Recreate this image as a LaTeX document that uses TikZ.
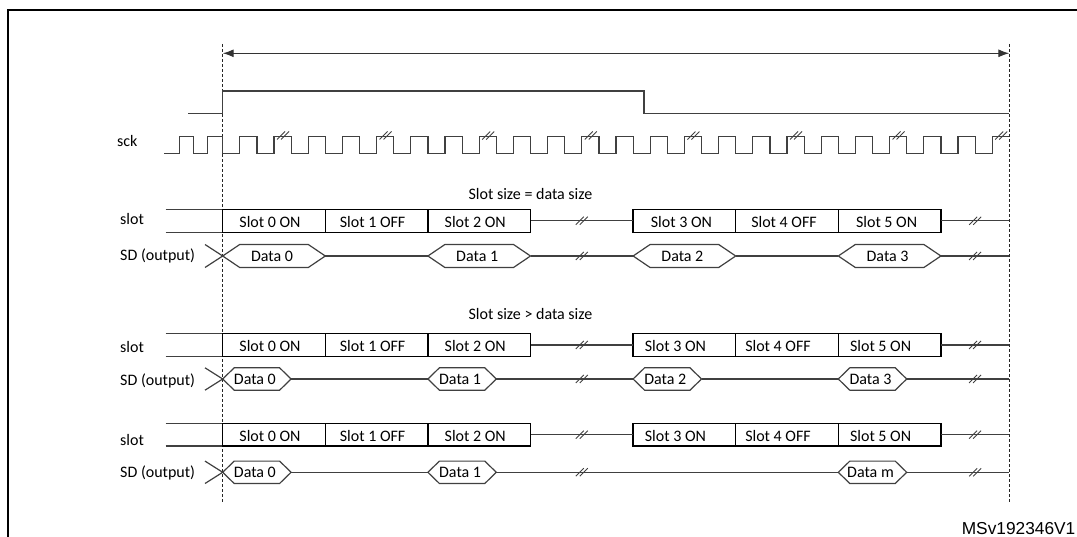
\documentclass[tikz,border=0pt]{standalone}
\usepackage{fontspec}
\setmainfont{Carlito}
\newfontfamily\arialfont{Liberation Sans}
\usetikzlibrary{arrows.meta}
\tikzset{
  sig/.style={line width=1.2pt, draw=black!75, line join=miter},
  boxln/.style={line width=1.3pt, draw=black},
  guide/.style={line width=0.9pt, draw=black!85, dash pattern=on 3pt off 2pt},
  brkln/.style={line width=0.9pt, draw=black!75},
  txt/.style={font=\fontsize{16}{19}\selectfont, inner sep=0pt, text=black},
  frameln/.style={line width=2.2pt, draw=black},
  tipst/.style={line width=1.2pt, draw=black!80, fill=black, {Latex[length=11pt,width=8pt]}-{Latex[length=11pt,width=8pt]}},
}
\newcommand\brkmark[2]{%
  \draw[brkln] ({#1-6},{#2+4}) -- ++(8,-8) ({#1-2},{#2+4}) -- ++(8,-8);}
% name, x1, x2, yc, h, s, text
\newcommand\hexa[7]{%
  \coordinate (#1L) at (#2,#4);
  \coordinate (#1R) at (#3,#4);
  \draw[sig] (#1L) -- ({#2+#6},{#4-#5}) -- ({#3-#6},{#4-#5}) -- (#1R) -- ({#3-#6},{#4+#5}) -- ({#2+#6},{#4+#5}) -- cycle;
  \node[txt,anchor=base] (#1) at ({(#2+#3)/2-2},{#4+5.3}) {#7};}
% prefix, yt, yb, shift of first group, shift of second group
\newcommand\slotrow[5]{%
  \pgfmathsetmacro\rowmid{(#2+#3)/2}
  \draw[sig] (165.7,#2) -- (222.7,#2) (165.7,#3) -- (222.7,#3);
  \draw[boxln] (222.7,#2) rectangle (530.5,#3) (325.3,#2) -- (325.3,#3) (427.9,#2) -- (427.9,#3);
  \draw[boxln] (633.1,#2) rectangle (940.9,#3) (735.7,#2) -- (735.7,#3) (838.3,#2) -- (838.3,#3);
  \coordinate (#1e1) at (530.5,\rowmid);
  \coordinate (#1s2) at (633.1,\rowmid);
  \coordinate (#1e2) at (940.9,\rowmid);
  \coordinate (#1end) at (1009.3,\rowmid);
  \draw[sig] (#1e1) -- (#1s2) (#1e2) -- (#1end);
  \brkmark{581.8}{\rowmid}
  \brkmark{975.1}{\rowmid}
  \node[txt,anchor=base] (#1a) at ({274+#4},{\rowmid+6.5}) {Slot 0 ON};
  \node[txt,anchor=base] (#1b) at ({376.6+#4},{\rowmid+6.5}) {Slot 1 OFF};
  \node[txt,anchor=base] (#1c) at ({479.2+#4},{\rowmid+6.5}) {Slot 2 ON};
  \node[txt,anchor=base] (#1d) at ({684.4+#5},{\rowmid+6.5}) {Slot 3 ON};
  \node[txt,anchor=base] (#1e) at ({787+#5},{\rowmid+6.5}) {Slot 4 OFF};
  \node[txt,anchor=base] (#1f) at ({889.6+#5},{\rowmid+6.5}) {Slot 5 ON};}
\newcommand\xcross[2]{%
  \draw[sig] (205,{#1-#2}) -- (222.7,#1) -- (205,{#1+#2});}
\begin{document}
\begin{tikzpicture}[x=1pt,y=-1pt]
\useasboundingbox (0,0) rectangle (1077,537);
% frame
\draw[frameln] (7.6,545) -- (7.6,9.8) -- (1085,9.8);
% guide lines
\coordinate (gl0) at (222.7,44);
\coordinate (gl1) at (222.7,502);
\coordinate (gr0) at (1009.3,44);
\coordinate (gr1) at (1009.3,502);
\draw[guide] (gl0) -- (gl1);
\draw[guide] (gr0) -- (gr1);
% span arrow
\coordinate (al) at (222.7,53.3);
\coordinate (ar) at (1009.3,53.3);
\draw[tipst] (al) -- (ar);
% frame sync
\draw[sig] (188.3,113.3) -- (222.7,113.3) -- (222.7,91) -- (644,91) -- (644,113.3) -- (1009.3,113.3);
% sck
\node[txt,anchor=base west] (scklbl) at (117,146.3) {sck};
\draw[sig] (164,153.3) -- (179.3,153.3) -- (179.3,136.7) -- (193.3,136.7) -- (193.3,153.3)
  -- (207.3,153.3) -- (207.3,136.7) -- (222.7,136.7) -- (222.7,153.3)
  \foreach \k in {0,...,21} {
    -- ({222.7+34.2*(\k+0.5)},153.3) -- ({222.7+34.2*(\k+0.5)},136.7)
    -- ({222.7+34.2*(\k+1)},136.7) -- ({222.7+34.2*(\k+1)},153.3) }
  -- (992.2,153.3) -- (992.2,136.7) -- (1009.3,136.7);
\foreach \k in {1,4,...,22} {
  \brkmark{222.7+34.2*(\k+0.5)+9}{135.5}
}
% section labels
\node[txt,anchor=base] (lblA) at (530.5,200) {Slot size = data size};
\node[txt,anchor=base] (lblB) at (530.5,320) {Slot size > data size};
% row labels
\node[txt,anchor=base west] (slotA) at (120,224.3) {slot};
\node[txt,anchor=base west] (sdA) at (120,261) {SD (output)};
\node[txt,anchor=base west] (slotB) at (120,352.3) {slot};
\node[txt,anchor=base west] (sdB) at (120,385) {SD (output)};
\node[txt,anchor=base west] (slotC) at (120,445) {slot};
\node[txt,anchor=base west] (sdC) at (120,477.3) {SD (output)};
% slot rows
\slotrow{ra}{209.3}{232.3}{-4}{-3}
\slotrow{rb}{333.3}{356.7}{-4}{-9}
\slotrow{rc}{423.3}{446}{-4}{-9}
% SD row 1
\xcross{256}{11.5}
\hexa{pa0}{222.7}{325.3}{256}{11.5}{17}{Data 0}
\hexa{pa1}{427.9}{530.5}{256}{11.5}{17}{Data 1}
\hexa{pa2}{633.1}{735.7}{256}{11.5}{17}{Data 2}
\hexa{pa3}{838.3}{940.9}{256}{11.5}{17}{Data 3}
\coordinate (paend) at (1009.3,256);
\draw[sig] (pa0R) -- (pa1L) (pa1R) -- (pa2L) (pa2R) -- (pa3L) (pa3R) -- (paend);
\brkmark{581.8}{256}
\brkmark{975.1}{256}
% SD row 2
\xcross{379}{11.2}
\hexa{pb0}{222.7}{291.1}{379}{11.2}{11.5}{Data 0}
\hexa{pb1}{427.9}{496.3}{379}{11.2}{11.5}{Data 1}
\hexa{pb2}{633.1}{701.5}{379}{11.2}{11.5}{Data 2}
\hexa{pb3}{838.3}{906.7}{379}{11.2}{11.5}{Data 3}
\coordinate (pbend) at (1009.3,379);
\draw[sig] (pb0R) -- (pb1L) (pb1R) -- (pb2L) (pb2R) -- (pb3L) (pb3R) -- (pbend);
\brkmark{581.8}{379}
\brkmark{975.1}{379}
% SD row 3
\xcross{472.3}{11.2}
\hexa{pc0}{222.7}{291.1}{472.3}{11.2}{11.5}{Data 0}
\hexa{pc1}{427.9}{496.3}{472.3}{11.2}{11.5}{Data 1}
\hexa{pcm}{838.3}{906.7}{472.3}{11.2}{11.5}{Data m}
\coordinate (pcend) at (1009.3,472.3);
\draw[sig] (pc0R) -- (pc1L) (pc1R) -- (pcmL) (pcmR) -- (pcend);
\brkmark{581.8}{472.3}
\brkmark{975.1}{472.3}
% id
\node[inner sep=0pt,anchor=base east,font=\arialfont\fontsize{17.3}{21}\selectfont] (msid) at (1075.5,534.4) {MSv192346V1};
\end{tikzpicture}
\end{document}
